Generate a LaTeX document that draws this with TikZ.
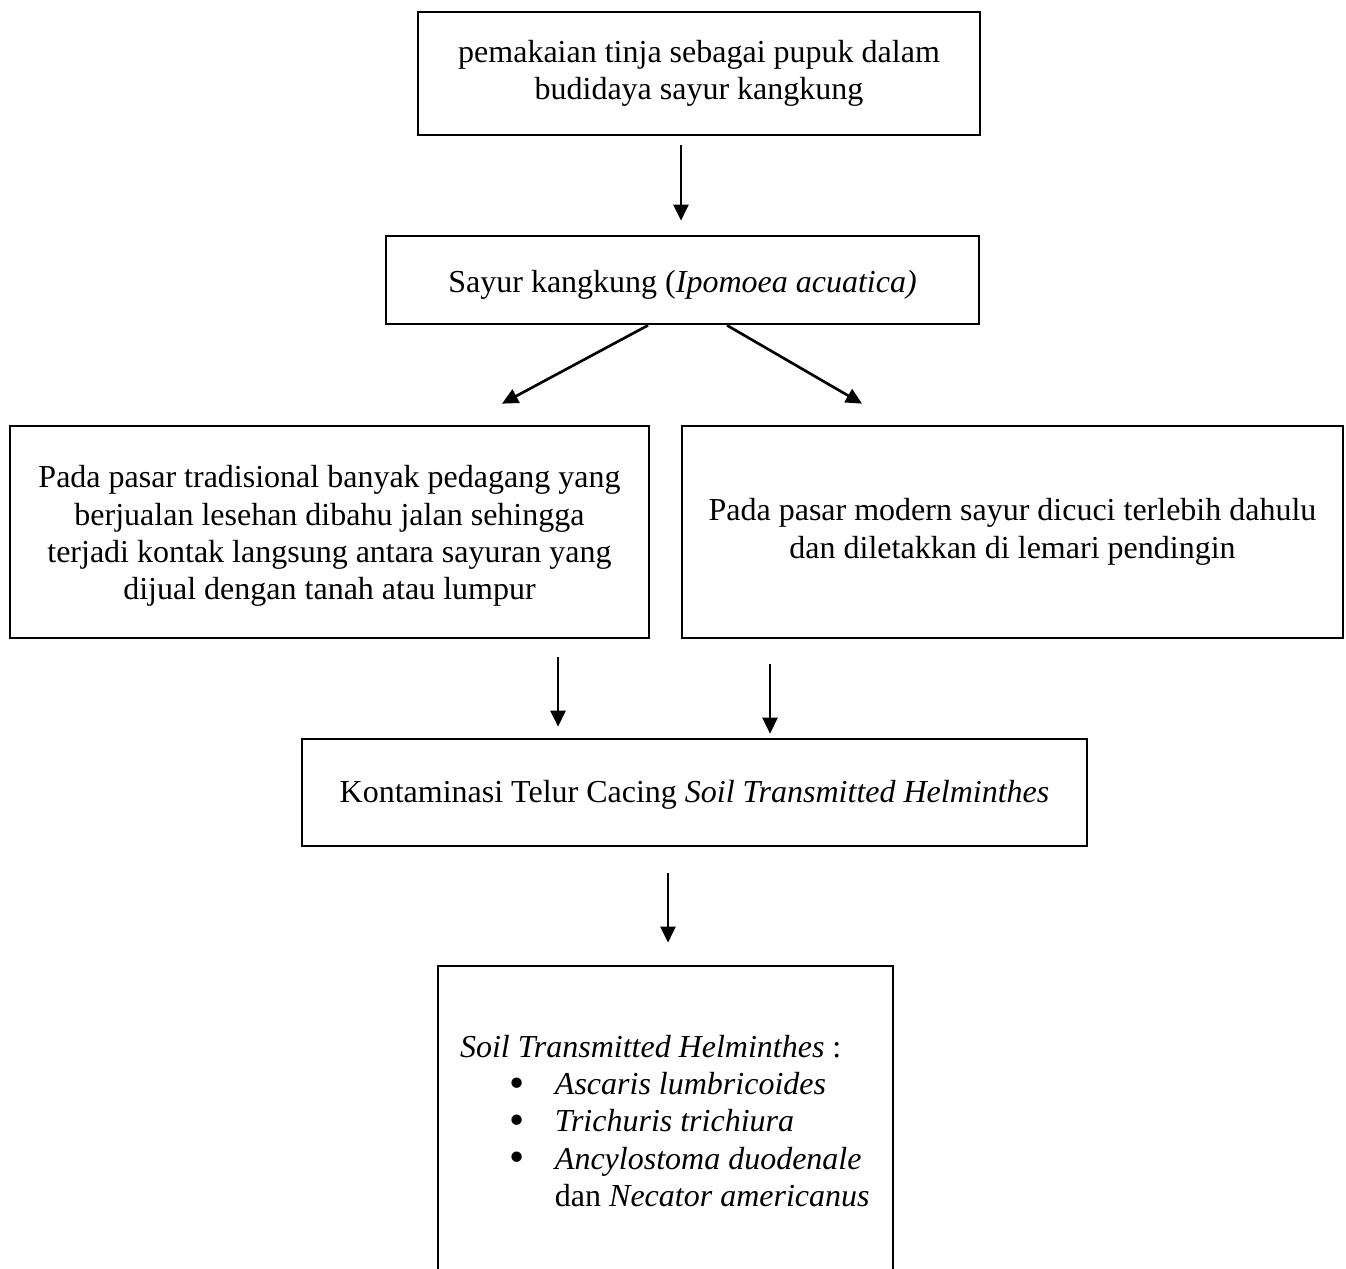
\documentclass[tikz,border=0pt]{standalone}
\usepackage{fontspec}
\setmainfont{Liberation Serif}
\usepackage{graphicx}
\usepackage{tikz}
\usetikzlibrary{arrows.meta,calc}
\newcommand{\lift}[1]{\rule{0pt}{#1}}
\newcommand{\sthitem}[1]{\makebox[35.6pt][l]{\hspace*{18.4pt}\smash{\raisebox{-1pt}{\scalebox{1.35}{\textbullet}}}}\textit{#1}}
\tikzstyle{box} = [draw, line width=1pt, align=center, inner sep=0pt, font=\fontsize{12pt}{14pt}\selectfont]
\tikzstyle{flow} = [-{Triangle[width=5.6pt,length=6pt]}, line width=1pt]

\begin{document}
\begin{tikzpicture}[x=0.375pt, y=-0.375pt]
			\clip (0,0) rectangle (1346,1268);
			\node[box, minimum width=210.75pt, minimum height=46.1pt] (tinja) at (699,73.5) {pemakaian tinja sebagai pupuk dalam\\budidaya sayur kangkung};
			\node[box, minimum width=222.4pt, minimum height=33pt] (kangkung) at (682.5,280) {\lift{12pt}Sayur kangkung (\textit{Ipomoea acuatica)}};
			\node[box, minimum width=239.6pt, minimum height=79.5pt] (trad) at (329.5,532) {\lift{11.5pt}Pada pasar tradisional banyak pedagang yang\\berjualan lesehan dibahu jalan sehingga\\terjadi kontak langsung antara sayuran yang\\dijual dengan tanah atau lumpur};
			\node[box, minimum width=247.9pt, minimum height=79.5pt] (modern) at (1012.5,532) {Pada pasar modern sayur dicuci terlebih dahulu\\dan diletakkan di lemari pendingin};
			\node[box, minimum width=294.4pt, minimum height=40.1pt] (kontam) at (694.5,792.5) {\lift{10pt}Kontaminasi Telur Cacing \textit{Soil Transmitted Helminthes}};
			\node[box, minimum width=170.6pt, minimum height=125.25pt] (sth) at (665.5,1133) {\parbox[c][73.5pt][t]{170.6pt}{\raggedright\leftskip=8.25pt
				\textit{Soil Transmitted Helminthes} :\\
				\sthitem{Ascaris lumbricoides}\\
				\sthitem{Trichuris trichiura}\\
				\sthitem{Ancylostoma duodenale}\\
				\hspace*{35.6pt}dan \textit{Necator americanus}}};
			\draw[flow] ($(tinja.south)+(-18,9)$) -- ($(kangkung.north)+(-1.5,-14)$);
			\draw[flow] ($(kangkung.south)+(-34.5,0)$) -- ($(trad.north)+(172.5,-21)$);
			\draw[flow] ($(kangkung.south)+(44.5,0)$) -- ($(modern.north)+(-150.5,-21)$);
			\draw[flow] ($(trad.south)+(228.5,18)$) -- ($(kontam.north)+(-136.5,-11)$);
			\draw[flow] ($(modern.south)+(-242.5,25)$) -- ($(kontam.north)+(75.5,-4)$);
			\draw[flow] ($(kontam.south)+(-26.5,26)$) -- ($(sth.north)+(2.5,-22)$);
		\end{tikzpicture}
\end{document}
